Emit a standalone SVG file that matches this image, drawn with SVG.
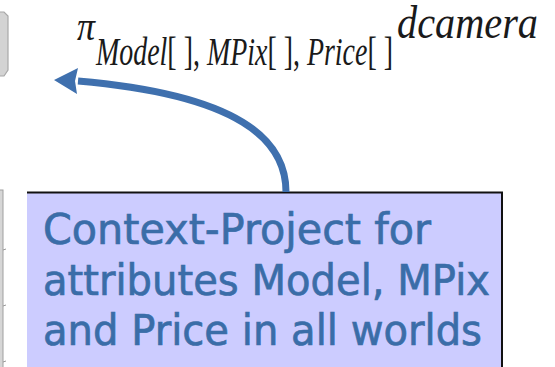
<svg xmlns="http://www.w3.org/2000/svg" width="555" height="367" viewBox="0 0 555 367">
  <style>
    .math { font-family: "Liberation Serif", "DejaVu Serif", serif; fill: #1a1a1a; }
    .it { font-style: italic; }
    .note { font-family: "DejaVu Sans", Verdana, sans-serif; font-size: 42px; fill: #3a6da8; stroke: #3a6da8; stroke-width: 0.7; }
    .edge { fill: none; stroke: #3f70ae; stroke-width: 7; }
  </style>

  <!-- partially visible shapes at the left edge -->
  <g id="left-block">
    <path d="M-2,12 L4,12 L8,16 L8,70 L4,76 L-2,76 Z" fill="#d3d3d3" stroke="#a8a8a8" stroke-width="1.2"/>
  </g>
  <g id="left-table">
    <rect x="-1" y="190" width="4" height="180" fill="#d6d6d6" stroke="#a0a0a0" stroke-width="1"/>
    <path d="M3,250 L6,249 M3,306 L6,305 M3,362 L6,361" stroke="#999" stroke-width="1"/>
  </g>

  <!-- projection expression -->
  <g id="expression">
    <text class="math it" x="77" y="40" font-size="40" textLength="18" lengthAdjust="spacingAndGlyphs">π</text>
    <text class="math" x="96" y="65" font-size="39" textLength="297" lengthAdjust="spacingAndGlyphs"><tspan class="it">Model</tspan>[ ], <tspan class="it">MPix</tspan>[ ], <tspan class="it">Price</tspan>[ ]</text>
    <text class="math it" x="397" y="38" font-size="46" textLength="141" lengthAdjust="spacingAndGlyphs">dcamera</text>
  </g>

  <!-- callout box -->
  <g id="callout">
    <rect x="27" y="192" width="475" height="180" fill="#ccccff"/>
    <path d="M27,192.5 L502,192.5 L502,370" fill="none" stroke="#111" stroke-width="2"/>
    <text class="note" x="43" y="244" textLength="388" lengthAdjust="spacingAndGlyphs">Context-Project for</text>
    <text class="note" x="43" y="294.5" textLength="447" lengthAdjust="spacingAndGlyphs">attributes Model, MPix</text>
    <text class="note" x="43" y="345" textLength="439" lengthAdjust="spacingAndGlyphs">and Price in all worlds</text>
  </g>

  <!-- connector -->
  <g id="connectors">
    <path class="edge" d="M286,192 C286,140 240,95 78,81"/>
    <path d="M54,80 L78,68 L75,81 L77,94 Z" fill="#3f70ae"/>
  </g>
</svg>
